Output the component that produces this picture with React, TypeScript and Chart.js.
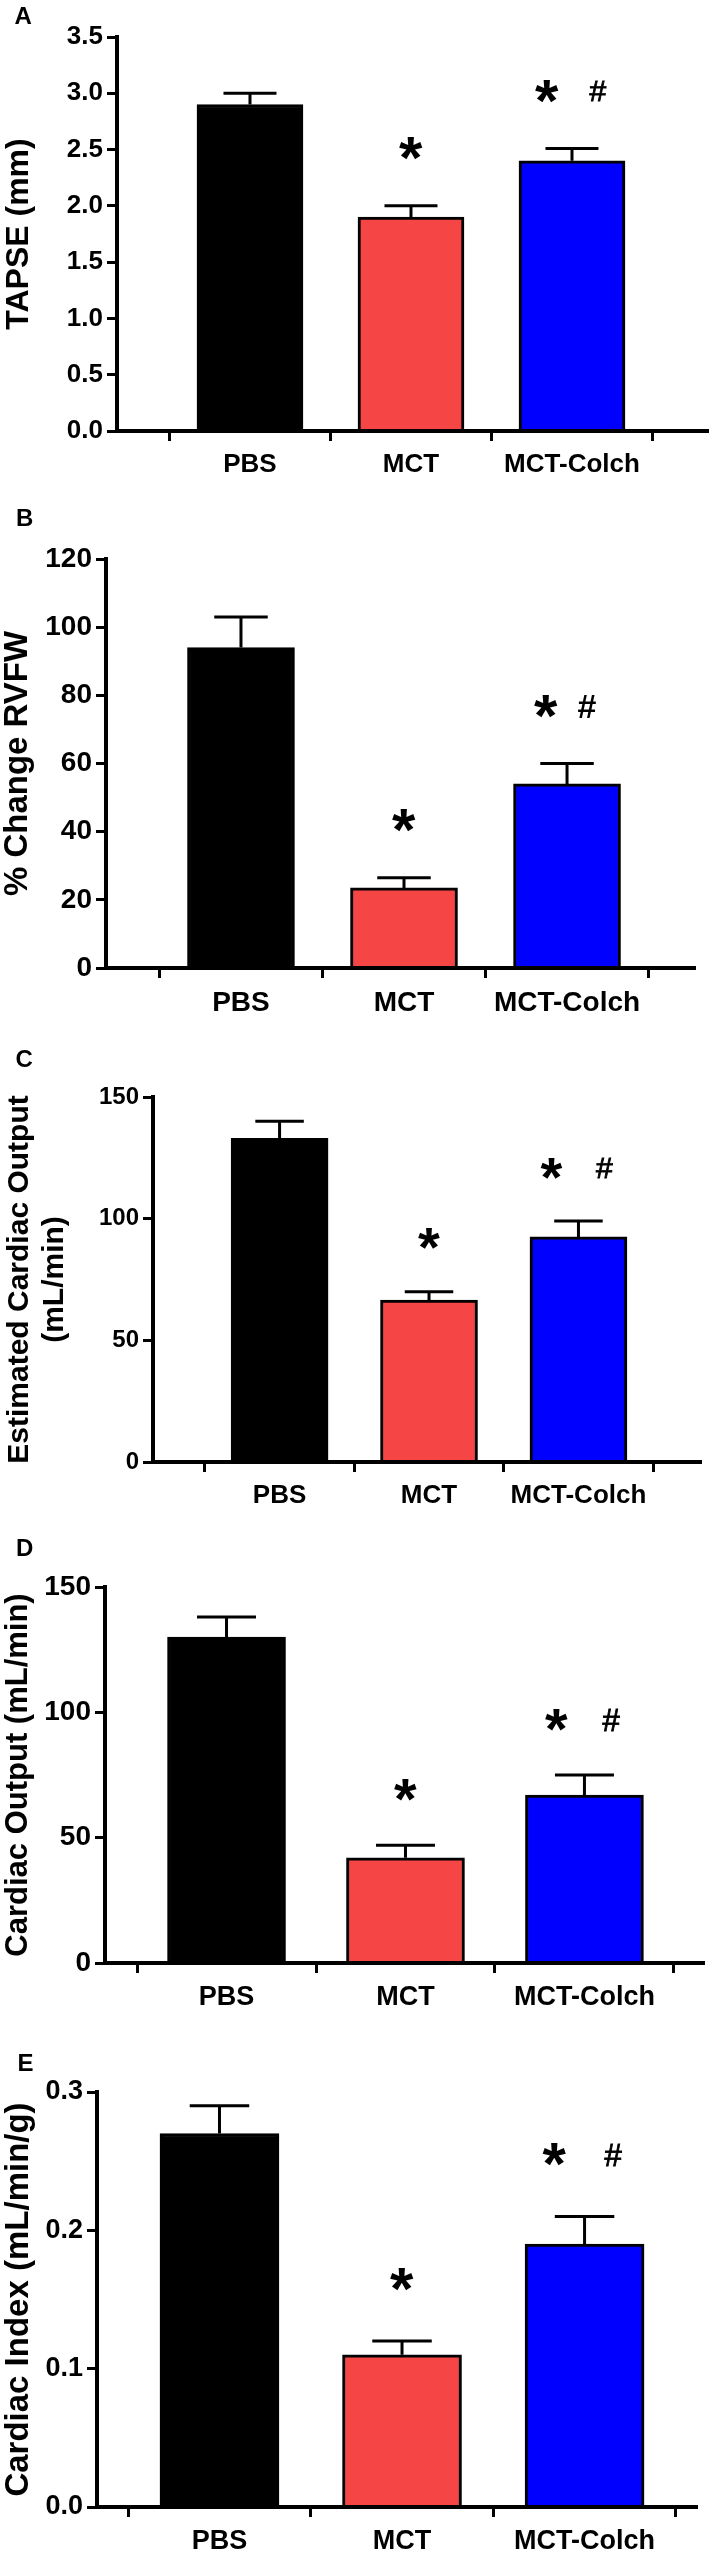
import React, { useEffect, useRef } from "react";
import { Chart, registerables } from "chart.js";

Chart.register(...registerables);

const FONT = "'Liberation Sans', Arial, Helvetica, sans-serif";

// ---- data ----
const groups = ["PBS", "MCT", "MCT-Colch"];
const groupPositions = [1, 2, 3];
const barColors = ["#000000", "#F54545", "#0000FF"];

const tapseMean = [2.9, 1.9, 2.4];
const tapseSem = [0.1, 0.1, 0.11];

const rvfwMean = [94, 23.5, 54];
const rvfwSem = [9, 3, 6];

const estCoMean = [133, 66.5, 92.5];
const estCoSem = [7, 3.5, 6.5];

const coMean = [130, 42, 67];
const coSem = [8, 5, 8];

const ciMean = [0.27, 0.11, 0.19];
const ciSem = [0.02, 0.01, 0.02];

// significance marks: "*" vs PBS, "#" vs MCT
const starMarks = ["", "*", "*"];
const hashMarks = ["", "", "#"];

// ---- panel layout / style ----
const panels = [
  {
    letter: "A", title: "TAPSE (mm)", mean: tapseMean, sem: tapseSem,
    yMax: 3.5, yStep: 0.5, dec: 1,
    top: 0, chartTop: 37, chartBottom: 431, axisX: 117, right: 709,
    xMin: 0.174, xMax: 3.851, barW: 106,
    tickFont: 26, xFont: 26, titleFont: 32, titleLH: 1.2, titlePad: 0,
    letterX: 23, letterY: 15,
    starSize: 60, hashSize: 30, hashBold: false, annotOffset: 57, starDx: -25, hashDx: 26,
  },
  {
    letter: "B", title: "% Change RVFW", mean: rvfwMean, sem: rvfwSem,
    yMax: 120, yStep: 20, dec: 0,
    top: 490, chartTop: 559, chartBottom: 968, axisX: 106, right: 695,
    xMin: 0.172, xMax: 3.785, barW: 107,
    tickFont: 28, xFont: 28, titleFont: 33, titleLH: 1.1, titlePad: 0,
    letterX: 25, letterY: 517,
    starSize: 60, hashSize: 34, hashBold: true, annotOffset: 57, starDx: -21, hashDx: 20,
  },
  {
    letter: "C", title: ["Estimated Cardiac Output", "(mL/min)"], mean: estCoMean, sem: estCoSem,
    yMax: 150, yStep: 50, dec: 0,
    top: 1025, chartTop: 1097, chartBottom: 1462, axisX: 153, right: 701,
    xMin: 0.153, xMax: 3.82, barW: 97,
    tickFont: 24, xFont: 26, titleFont: 30, titleLH: 1.17, titlePad: 2,
    letterX: 24, letterY: 1058,
    starSize: 56, hashSize: 30, hashBold: false, annotOffset: 53, starDx: -27, hashDx: 26,
  },
  {
    letter: "D", title: "Cardiac Output (mL/min)", mean: coMean, sem: coSem,
    yMax: 150, yStep: 50, dec: 0,
    top: 1520, chartTop: 1587, chartBottom: 1963, axisX: 105, right: 704,
    xMin: 0.321, xMax: 3.668, barW: 118,
    tickFont: 28, xFont: 27, titleFont: 31, titleLH: 1.2, titlePad: 0,
    letterX: 25, letterY: 1547,
    starSize: 58, hashSize: 31, hashBold: false, annotOffset: 55, starDx: -28, hashDx: 27,
  },
  {
    letter: "E", title: "Cardiac Index (mL/min/g)", mean: ciMean, sem: ciSem,
    yMax: 0.3, yStep: 0.1, dec: 1,
    top: 2035, chartTop: 2092, chartBottom: 2507, axisX: 97, right: 697,
    xMin: 0.329, xMax: 3.616, barW: 119,
    tickFont: 27, xFont: 27, titleFont: 33, titleLH: 1.13, titlePad: 0,
    letterX: 26, letterY: 2062,
    starSize: 60, hashSize: 31, hashBold: false, annotOffset: 62, starDx: -30, hashDx: 29,
  },
];

const X_AXIS_H = 50;
const PAGE_W = 709;

function drawCentered(
  ctx: CanvasRenderingContext2D,
  text: string,
  font: string,
  cx: number,
  cy: number,
  strokeW = 0
) {
  ctx.font = font;
  ctx.textAlign = "left";
  ctx.textBaseline = "alphabetic";
  const m = ctx.measureText(text);
  const x = cx - (m.actualBoundingBoxRight - m.actualBoundingBoxLeft) / 2;
  const y = cy + (m.actualBoundingBoxAscent - m.actualBoundingBoxDescent) / 2;
  ctx.fillText(text, x, y);
  if (strokeW > 0) {
    ctx.lineWidth = strokeW;
    ctx.strokeText(text, x, y);
  }
}

function Panel({ p }: { p: any }) {
  const ref = useRef<HTMLCanvasElement | null>(null);
  const height = p.chartBottom - p.top + X_AXIS_H;

  useEffect(() => {
    if (!ref.current) return;
    const plugin = {
      id: "errorBarsAndMarks",
      afterDatasetsDraw(chart: any) {
        const ctx = chart.ctx as CanvasRenderingContext2D;
        const meta = chart.getDatasetMeta(0);
        const yScale = chart.scales.y;
        ctx.save();
        ctx.strokeStyle = "#000";
        ctx.fillStyle = "#000";
        meta.data.forEach((bar: any, i: number) => {
          const x = bar.x;
          const yTop = yScale.getPixelForValue(p.mean[i] + p.sem[i]);
          const half = (bar.width * 0.5) / 2;
          ctx.lineWidth = 3;
          ctx.beginPath();
          ctx.moveTo(x, bar.y);
          ctx.lineTo(x, yTop);
          ctx.moveTo(x - half, yTop);
          ctx.lineTo(x + half, yTop);
          ctx.stroke();
          const yc = yTop - p.annotOffset;
          if (starMarks[i]) {
            drawCentered(ctx, starMarks[i], `bold ${p.starSize}px ${FONT}`, x + (hashMarks[i] ? p.starDx : 0), yc);
          }
          if (hashMarks[i]) {
            drawCentered(
              ctx,
              hashMarks[i],
              `${p.hashBold ? "bold " : ""}${p.hashSize}px ${FONT}`,
              x + p.hashDx,
              yc,
              p.hashBold ? 0 : 0.9
            );
          }
        });
        ctx.restore();
      },
      afterDraw(chart: any) {
        const ctx = chart.ctx as CanvasRenderingContext2D;
        ctx.save();
        ctx.fillStyle = "#000";
        drawCentered(ctx, p.letter, `bold 24px ${FONT}`, p.letterX, p.letterY - p.top);
        ctx.restore();
      },
    };

    const chart = new Chart(ref.current, {
      type: "bar",
      data: {
        datasets: [
          {
            data: groupPositions.map((g, i) => ({ x: g, y: p.mean[i] })),
            backgroundColor: barColors,
            borderColor: "#000",
            borderWidth: 3,
            barThickness: p.barW,
          } as any,
        ],
      },
      options: {
        responsive: false,
        animation: false,
        color: "#000",
        layout: {
          padding: { top: p.chartTop - p.top, left: 0, right: PAGE_W - p.right, bottom: 0 },
        },
        plugins: { legend: { display: false }, tooltip: { enabled: false } },
        scales: {
          x: {
            type: "linear",
            min: p.xMin,
            max: p.xMax,
            offset: false,
            bounds: "data",
            afterBuildTicks: (s: any) => {
              s.ticks = groupPositions.map((v) => ({ value: v }));
            },
            afterFit: (s: any) => {
              s.height = X_AXIS_H;
              s.paddingLeft = 0;
              s.paddingRight = 0;
            },
            ticks: {
              autoSkip: false,
              maxRotation: 0,
              padding: 8,
              color: "#000",
              font: { family: FONT, size: p.xFont, weight: "bold" },
              callback: (v: any) => groups[groupPositions.indexOf(Number(v))] ?? "",
            },
            grid: { display: true, drawOnChartArea: false, drawTicks: true, tickLength: 10, tickWidth: 3, tickColor: "#000" },
            border: { display: true, color: "#000", width: 4, z: 1 },
          },
          y: {
            min: 0,
            max: p.yMax,
            afterFit: (s: any) => {
              s.width = p.axisX;
              s.paddingTop = 0;
              s.paddingBottom = 0;
            },
            ticks: {
              stepSize: p.yStep,
              padding: 4,
              color: "#000",
              font: { family: FONT, size: p.tickFont, weight: "bold" },
              callback: (v: any) => Number(v).toFixed(p.dec),
            },
            grid: { display: true, drawOnChartArea: false, drawTicks: true, tickLength: 10, tickWidth: 3, tickColor: "#000" },
            border: { display: true, color: "#000", width: 4, z: 1 },
            title: {
              display: true,
              text: p.title,
              color: "#000",
              font: { family: FONT, size: p.titleFont, weight: "bold", lineHeight: p.titleLH },
              padding: { top: p.titlePad, bottom: 0 },
            },
          },
        },
      } as any,
      plugins: [plugin],
    });
    return () => chart.destroy();
  }, []);

  return (
    <canvas
      ref={ref}
      width={PAGE_W}
      height={height}
      style={{ position: "absolute", left: 0, top: p.top, width: PAGE_W, height }}
    />
  );
}

export default function App() {
  return (
    <div style={{ position: "absolute", left: 0, top: 0, width: PAGE_W, height: 2552, background: "#fff", overflow: "hidden" }}>
      {panels.map((p) => (
        <Panel key={p.letter} p={p} />
      ))}
    </div>
  );
}
